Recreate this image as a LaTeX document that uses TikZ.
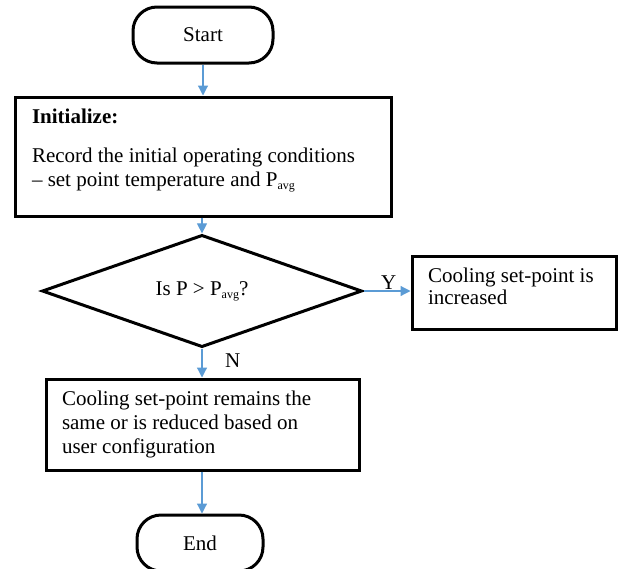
\documentclass[tikz,border=0pt]{standalone}
\usepackage{fontspec}
\setmainfont{Liberation Serif}
\usetikzlibrary{shapes.geometric,arrows.meta}
\definecolor{arrowblue}{HTML}{5B9BD5}
\newcommand{\subavg}{\raisebox{-3pt}{\fontsize{12}{12}\selectfont avg}}
\tikzset{
  termbox/.style={draw=black, line width=3pt, rounded corners=24pt, minimum width=140pt, minimum height=56pt, inner sep=0pt},
  procbox/.style={draw=black, line width=3pt, inner ysep=0pt, align=left},
  decbox/.style={draw=black, line width=3pt, diamond, minimum width=320pt, minimum height=76pt, inner sep=0pt},
  flow/.style={draw=arrowblue, line width=1.2pt, -{Triangle[length=10pt,width=10pt]}},
  lbl/.style={inner sep=0pt, anchor=base west}
}
\newcommand{\boxtext}[3]{\parbox[c][#1][t]{#2}{\fontsize{21}{24}\selectfont\raggedright\vspace{9.2pt}#3}}
\begin{document}
\begin{tikzpicture}[x=1pt, y=-1pt, font=\fontsize{21}{24}\selectfont]
\useasboundingbox (0,0) rectangle (618,568);
\clip (0,0) rectangle (618,568);
\node[termbox] (start) at (203,35) {Start};
\node[procbox, inner xsep=17pt] (init) at (203,156.5) {\boxtext{119pt}{342pt}{\strut\textbf{Initialize:}\\[15pt]\strut Record the initial operating conditions\\\strut – set point temperature and P\subavg}};
\node[decbox] (dec) at (202,291) {Is P > P\subavg?};
\node[procbox, inner xsep=16pt] (inc) at (514,292.5) {\boxtext{73pt}{172pt}{\strut Cooling set-point is\\[-2pt]\strut increased}};
\node[procbox, inner xsep=16pt] (same) at (202.5,424.5) {\boxtext{91pt}{281pt}{\strut Cooling set-point remains the\\\strut same or is reduced based on\\\strut user configuration}};
\node[termbox, minimum width=126pt] (end) at (200,543) {End};
\draw[flow] (start.south -| init.north) -- (init.north);
\draw[flow] (init.south -| dec.north) -- (dec.north);
\draw[flow] (dec.east) -- (dec.east -| inc.west);
\draw[flow] (dec.south) -- (dec.south |- same.north);
\draw[flow] (same.south -| dec.south) -- (end.north -| dec.south);
\node[lbl] (ylab) at (381,289) {Y};
\node[lbl] (nlab) at (225,367) {N};
\end{tikzpicture}
\end{document}
